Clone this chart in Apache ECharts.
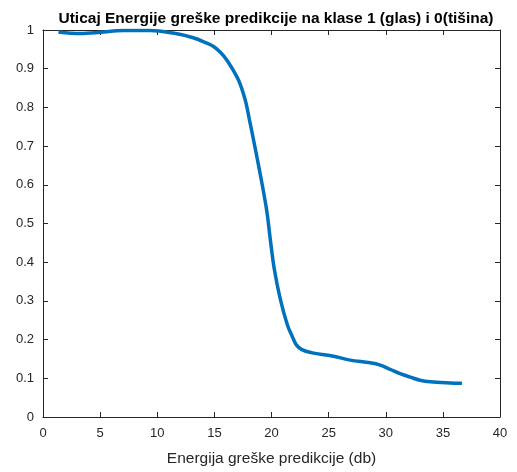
<!DOCTYPE html>
<html>
<head>
<meta charset="utf-8">
<script src="https://cdn.jsdelivr.net/npm/echarts@6/dist/echarts.min.js"></script>
<style>
html, body { margin: 0; padding: 0; background: #fff; }
#chart { width: 517px; height: 472px; }
</style>
</head>
<body>
<div id="chart"></div>
<script>
// Energija greške predikcije (db)
const energyDb = [1.35, 3.25, 5.0, 7.01, 9.38, 11.39, 13.15, 14.34, 14.9, 15.5, 16.1, 17.11, 17.7, 18.07, 18.42, 19.10, 19.60, 19.89, 20.24, 20.76, 21.4, 21.79, 22.16, 22.66, 23.68, 25.43, 26.89, 28.64, 29.52, 30.39, 31.26, 32.14, 33.01, 33.89, 35.64, 36.67];
// Udeo klase (1 = glas, 0 = tišina)
const classValue = [0.995, 0.991, 0.994, 0.999, 0.999, 0.992, 0.980, 0.966, 0.958, 0.943, 0.922, 0.871, 0.819, 0.768, 0.717, 0.614, 0.530, 0.460, 0.383, 0.306, 0.237, 0.210, 0.187, 0.174, 0.165, 0.157, 0.147, 0.140, 0.134, 0.123, 0.112, 0.103, 0.095, 0.091, 0.088, 0.087];
const xTicks = [0, 5, 10, 15, 20, 25, 30, 35, 40];
const yTicks = [0, 0.1, 0.2, 0.3, 0.4, 0.5, 0.6, 0.7, 0.8, 0.9, 1];

const titleText = 'Uticaj Energije greške predikcije na klase 1 (glas) i 0(tišina)';
const xName = 'Energija greške predikcije (db)';

const axisColor = '#262626';
const font = 'Liberation Sans, Arial, Helvetica, sans-serif';

const chart = echarts.init(document.getElementById('chart'), null, { renderer: 'canvas' });

const baseX = {
  type: 'value',
  min: xTicks[0],
  max: xTicks[xTicks.length - 1],
  interval: xTicks[1] - xTicks[0],
  axisLine: { show: true, onZero: false, lineStyle: { color: axisColor, width: 1 } },
  axisTick: { show: true, inside: true, length: 5, lineStyle: { color: axisColor } },
  splitLine: { show: false }
};
const baseY = {
  type: 'value',
  min: yTicks[0],
  max: yTicks[yTicks.length - 1],
  interval: 0.1,
  axisLine: { show: true, onZero: false, lineStyle: { color: axisColor, width: 1 } },
  axisTick: { show: true, inside: true, length: 5, lineStyle: { color: axisColor } },
  splitLine: { show: false }
};

chart.setOption({
  backgroundColor: '#ffffff',
  animation: false,
  title: {
    text: titleText,
    left: 271,
    textAlign: 'center',
    top: 6,
    textStyle: { fontFamily: font, fontSize: 15.5, fontWeight: 'bold', color: '#000' }
  },
  grid: { left: 43, right: 17, top: 30, bottom: 52, containLabel: false },
  xAxis: [
    Object.assign({}, baseX, {
      position: 'bottom',
      name: xName,
      nameLocation: 'middle',
      nameGap: 34,
      nameTextStyle: { fontFamily: font, fontSize: 15.5, color: axisColor },
      axisLabel: { show: true, margin: 10, fontFamily: font, fontSize: 13, color: axisColor }
    }),
    Object.assign({}, baseX, {
      position: 'top',
      axisLabel: { show: false }
    })
  ],
  yAxis: [
    Object.assign({}, baseY, {
      position: 'left',
      axisLabel: {
        show: true, margin: 9, fontFamily: font, fontSize: 13, color: axisColor,
        formatter: v => (v === 0 || v === 1) ? String(v) : v.toFixed(1)
      }
    }),
    Object.assign({}, baseY, {
      position: 'right',
      axisLabel: { show: false }
    })
  ],
  series: [{
    type: 'line',
    xAxisIndex: 0,
    yAxisIndex: 0,
    data: energyDb.map((x, i) => [x, classValue[i]]),
    smooth: 0.35,
    showSymbol: false,
    lineStyle: { color: '#0072BD', width: 3.5 },
    itemStyle: { color: '#0072BD' }
  }]
});
</script>
</body>
</html>
